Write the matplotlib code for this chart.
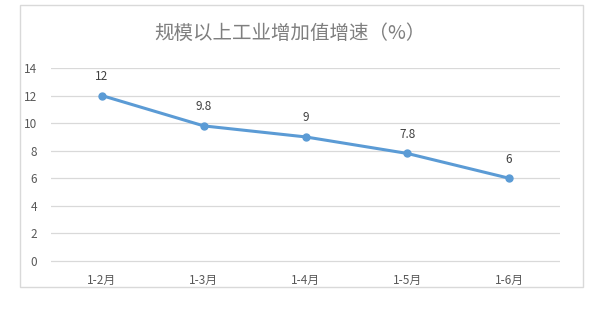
import matplotlib
matplotlib.use("Agg")
import matplotlib.pyplot as plt
from matplotlib.patches import Rectangle

plt.rcParams['font.family'] = ['Noto Sans CJK SC', 'DejaVu Sans']

categories = ["1-2月", "1-3月", "1-4月", "1-5月", "1-6月"]
values = [12, 9.8, 9, 7.8, 6]
value_labels = ["12", "9.8", "9", "7.8", "6"]
yticks = [0, 2, 4, 6, 8, 10, 12, 14]
title = "规模以上工业增加值增速（%）"

fig = plt.figure(figsize=(5.96, 3.09), dpi=100)
fig.patch.set_facecolor("white")
fig.patches.append(Rectangle((20/596, 1-287/309), (583-20)/596, (287-5)/309,
                             transform=fig.transFigure, fill=False,
                             edgecolor="#d9d9d9", linewidth=1.0))

ax = fig.add_axes([51/596, 46/309, (560-51)/596, (241-46)/309])
x = list(range(len(categories)))
ax.plot(x, values, color="#5b9bd5", linewidth=2.2, marker="o", markersize=5,
        markerfacecolor="#5b9bd5", markeredgecolor="#5b9bd5", zorder=3)
for xi, v, lab in zip(x, values, value_labels):
    ax.annotate(lab, (xi, v), xytext=(0, 9), textcoords="offset points",
                ha="center", va="bottom", fontsize=8.5, color="#404040")

ax.set_xlim(-0.5, len(categories) - 0.5)
ax.set_ylim(-0.15, 14)
ax.set_yticks(yticks)
ax.set_yticklabels([str(t) for t in yticks])
ax.set_xticks(x)
ax.set_xticklabels(categories)
ax.tick_params(axis="both", length=0, labelsize=8.5, labelcolor="#595959")
ax.tick_params(axis="x", pad=8)
ax.tick_params(axis="y", pad=10)
ax.grid(axis="y", color="#d9d9d9", linewidth=0.9)
ax.set_axisbelow(True)
for s in ax.spines.values():
    s.set_visible(False)

fig.text(290/596, 1-33/309, title, ha="center", va="center", fontsize=14, color="#7f7f7f")

fig.savefig("out.png", dpi=100, facecolor="white")
